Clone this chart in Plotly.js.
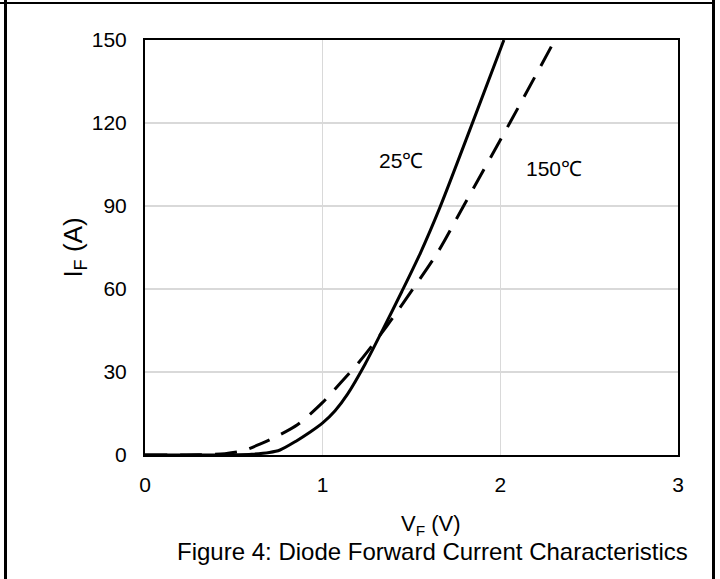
<!DOCTYPE html>
<html>
<head>
<meta charset="utf-8">
<script src="https://cdn.plot.ly/plotly-3.0.1.min.js"></script>
<style>
  html, body { margin: 0; padding: 0; background: #fff; }
  #wrap { position: relative; width: 720px; height: 579px; overflow: hidden; }
  #chart { position: absolute; left: 0; top: 0; width: 720px; height: 579px; }
  .fr { position: absolute; background: #000; }
</style>
</head>
<body>
<div id="wrap">
  <div id="chart"></div>
  <div class="fr" style="left:4px; top:0px; width:3px; height:579px;"></div>
  <div class="fr" style="left:0px; top:2px; width:715px; height:2px;"></div>
  <div class="fr" style="left:712px; top:0px; width:3px; height:579px;"></div>
</div>
<script>
// 25°C (solid)
const vf25 = [0, 0.4, 0.6, 0.7, 0.76, 0.85, 0.93, 1.0, 1.07, 1.14, 1.24, 1.34, 1.445, 1.55, 1.66, 1.84, 2.02];
const if25 = [0, 0, 0.3, 0.9, 1.8, 5, 8.3, 11.6, 16, 22, 33, 45.5, 59, 73, 89.5, 119.5, 150];
// 150°C (dashed)
const vf150 = [0, 0.3, 0.45, 0.55, 0.65, 0.75, 0.86, 1.0, 1.1, 1.21, 1.36, 1.508, 1.649, 1.793, 2.053, 2.307];
const if150 = [0, 0.1, 0.5, 1.5, 4, 7, 11, 19, 26, 34, 46.5, 60, 73.4, 90, 120, 150];

const xTicks = [0, 1, 2, 3];
const yTicks = [0, 30, 60, 90, 120, 150];
const seriesLabels = ["25\u2103", "150\u2103"];

const FONT = "Liberation Sans, Arial, sans-serif";

const traces = [
  { x: vf25, y: if25, type: "scatter", mode: "lines", name: seriesLabels[0],
    line: { color: "#000", width: 3, shape: "spline", smoothing: 0.8 } },
  { x: vf150, y: if150, type: "scatter", mode: "lines", name: seriesLabels[1],
    line: { color: "#000", width: 3, dash: "22px,13px", shape: "spline", smoothing: 0.8 } }
];

const layout = {
  width: 720, height: 579,
  margin: { l: 145, r: 42, t: 40, b: 124 },
  paper_bgcolor: "#fff", plot_bgcolor: "#fff",
  showlegend: false,
  font: { family: FONT, color: "#000" },
  xaxis: {
    range: [0, 3], tickvals: xTicks, ticktext: xTicks.map(String),
    showgrid: true, gridcolor: "#d9d9d9", gridwidth: 1.5,
    zeroline: false, showline: true, linecolor: "#000", linewidth: 2, mirror: true,
    ticks: "", ticklabelstandoff: 10, tickfont: { size: 21, family: FONT, color: "#000" },
    fixedrange: true
  },
  yaxis: {
    range: [0, 150], tickvals: yTicks, ticktext: yTicks.map(String),
    showgrid: true, gridcolor: "#d9d9d9", gridwidth: 1.5,
    zeroline: false, showline: true, linecolor: "#000", linewidth: 2, mirror: true,
    ticks: "", ticklabelstandoff: 12, tickfont: { size: 21, family: FONT, color: "#000" },
    fixedrange: true
  },
  annotations: [
    { text: seriesLabels[0], x: 1.44, y: 106.6, xref: "x", yref: "y", showarrow: false,
      xanchor: "center", yanchor: "middle",
      font: { size: 21, family: FONT, color: "#000" } },
    { text: seriesLabels[1], x: 2.3, y: 103.5, xref: "x", yref: "y", showarrow: false,
      xanchor: "center", yanchor: "middle",
      font: { size: 21, family: FONT, color: "#000" } },
    { text: "I<sub>F</sub> (A)", x: -0.133, y: 0.5, xref: "paper", yref: "paper", showarrow: false,
      xanchor: "center", yanchor: "middle",
      textangle: -90, font: { size: 26, family: FONT, color: "#000" } },
    { text: "V<sub>F</sub> (V)", x: 0.537, y: -0.168, xref: "paper", yref: "paper", showarrow: false,
      xanchor: "center", yanchor: "middle",
      font: { size: 22, family: FONT, color: "#000" } },
    { text: "Figure 4: Diode Forward Current Characteristics", x: 0.539, y: -0.233,
      xref: "paper", yref: "paper", showarrow: false,
      xanchor: "center", yanchor: "middle",
      font: { size: 24, family: FONT, color: "#000" } }
  ]
};

Plotly.newPlot("chart", traces, layout, { displayModeBar: false, staticPlot: true });
</script>
</body>
</html>
